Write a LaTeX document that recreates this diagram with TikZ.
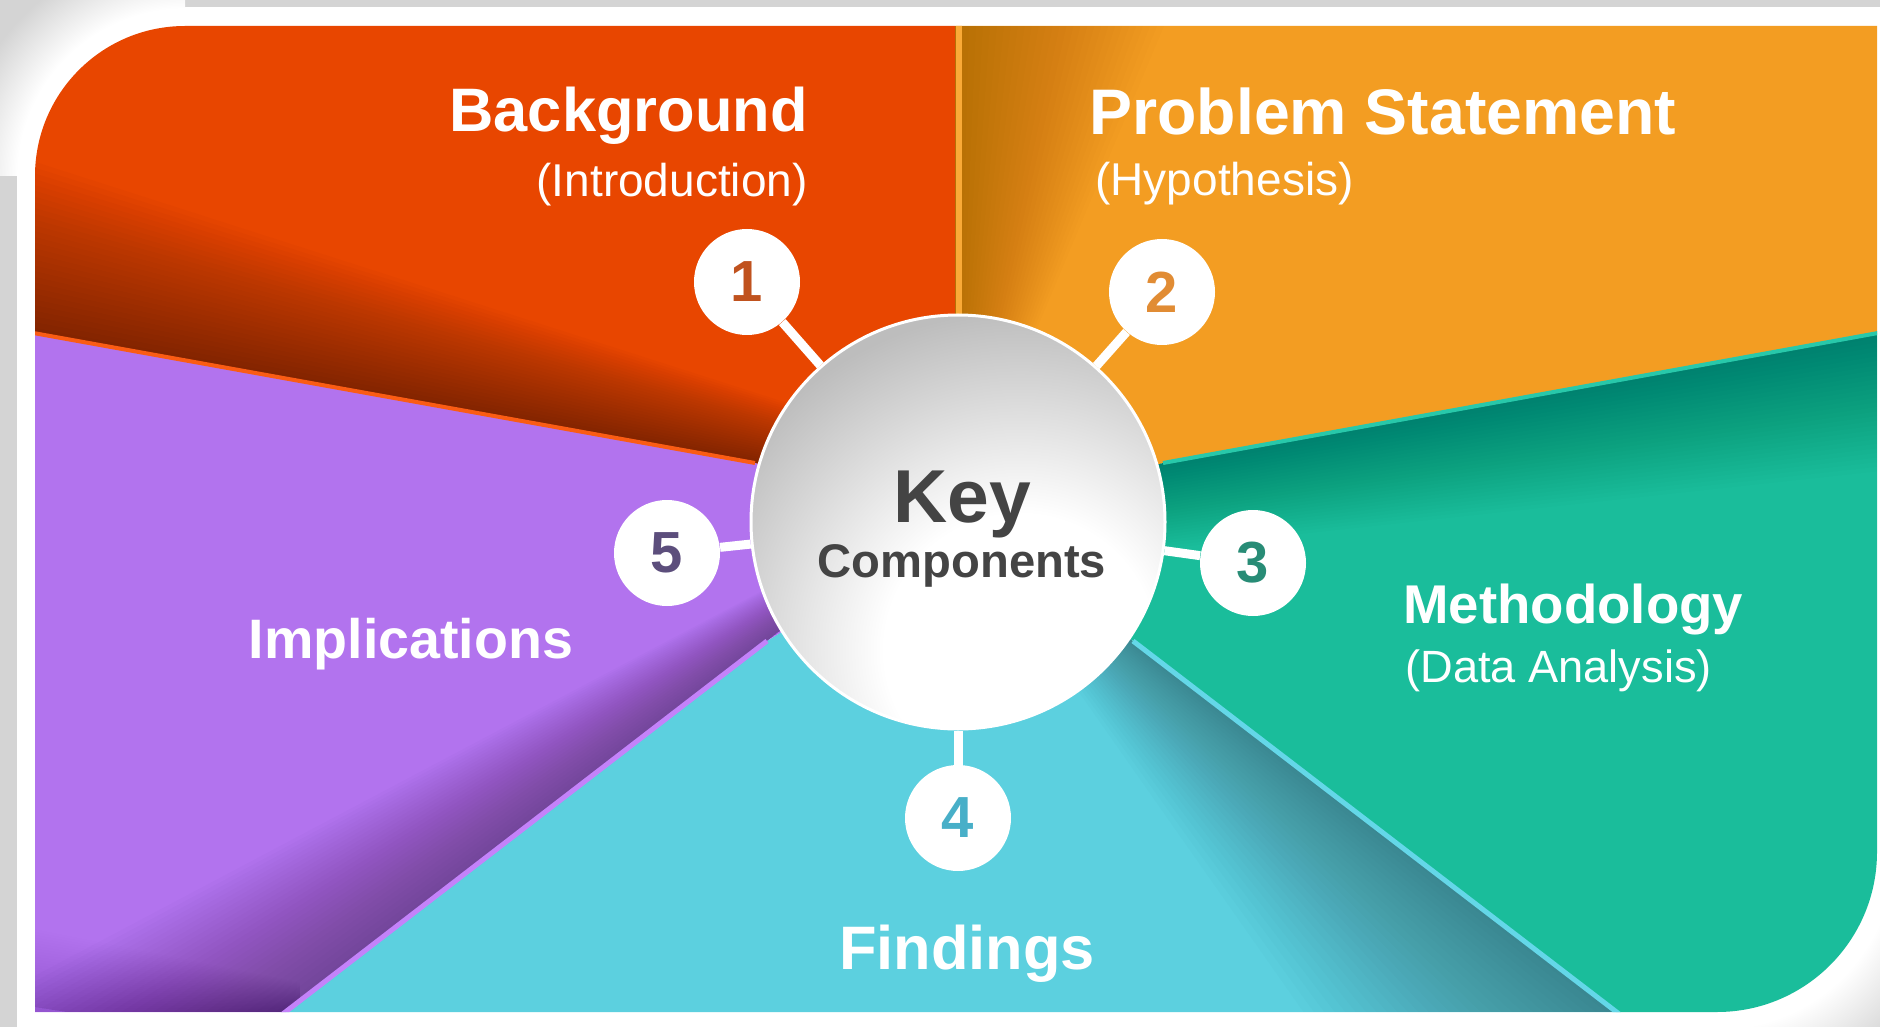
\documentclass[tikz,border=0pt]{standalone}
\usepackage{fontspec}
\setmainfont{Liberation Sans}
\usetikzlibrary{calc}
\definecolor{sred}{RGB}{232,70,0}
\definecolor{syellow}{RGB}{243,157,34}
\definecolor{steal}{RGB}{26,189,155}
\definecolor{scyan}{RGB}{92,208,223}
\definecolor{spurple}{RGB}{178,115,238}
\definecolor{hlred}{RGB}{250,92,20}
\definecolor{hlyellow}{RGB}{250,170,55}
\definecolor{hlteal}{RGB}{40,200,170}
\definecolor{hlcyan}{RGB}{100,215,232}
\definecolor{hlpurple}{RGB}{196,130,250}
\definecolor{bandgrey}{RGB}{212,212,212}
\definecolor{kgrey}{RGB}{189,189,189}
\definecolor{keytxt}{RGB}{68,68,68}
\definecolor{nonecol}{RGB}{192,82,30}
\definecolor{ntwocol}{RGB}{225,140,52}
\definecolor{nthreecol}{RGB}{40,140,118}
\definecolor{nfourcol}{RGB}{72,175,200}
\definecolor{nfivecol}{RGB}{92,78,124}
\pgfdeclareradialshading{cornershadow}{\pgfpointorigin}{rgb(0bp)=(1,1,1); rgb(16.1bp)=(1,1,1); rgb(22bp)=(0.83,0.83,0.83); rgb(50bp)=(0.83,0.83,0.83)}
\pgfdeclareradialshading{brshadow}{\pgfpointorigin}{rgb(0bp)=(1,1,1); rgb(17bp)=(1,1,1); rgb(23bp)=(0.86,0.86,0.86); rgb(50bp)=(0.86,0.86,0.86)}
\pgfdeclareradialshading{keyshade}{\pgfpointorigin}{rgb(0bp)=(1,1,1); rgb(10bp)=(1,1,1); rgb(25bp)=(0.74,0.74,0.74); rgb(50bp)=(0.74,0.74,0.74)}
\newcommand\shband[5]{\foreach \k in {1,...,30}{\pgfmathsetmacro\s{\k/30}\fill[black,opacity=#5] (#1) -- (#2) -- ($(#2)+\s*(#4)$) -- ($(#1)+\s*(#3)$) -- cycle;}}
\tikzset{
  keycircle/.style={circle, minimum size=207pt, inner sep=0pt, fill=kgrey, draw=white, line width=1.5pt,
    path picture={\shade[shading=keyshade] ($(path picture bounding box.center)+(62,128)$) circle (170pt);}},
  numc/.style={circle, minimum size=53pt, inner sep=0pt, fill=white, font=\bfseries\fontsize{29pt}{32pt}\selectfont},
  conn/.style={draw=white, line width=4.5pt},
  lbl/.style={inner sep=0pt, text=white},
  keylbl/.style={inner sep=0pt, text=keytxt, anchor=base}
}
\begin{document}
\begin{tikzpicture}[x=0.5pt, y=-0.5pt]
\useasboundingbox (0,0) rectangle (1880,1027);
\fill[white] (0,0) rectangle (1880,1027);
\fill[bandgrey] (0,0) rectangle (1880,7);
\fill[bandgrey] (0,0) rectangle (17,1027);
\begin{scope}
  \clip (0,0) rectangle (185,176);
  \shade[shading=cornershadow] (185,176) circle (130pt);
\end{scope}
\begin{scope}
  \clip (1717,852) rectangle (1880,1027);
  \shade[shading=brshadow] (1717,852) circle (130pt);
\end{scope}

\coordinate (C) at (958,522);
\coordinate (a0) at (955,0);    \coordinate (a1) at (955,400);
\coordinate (b0) at (1900,329); \coordinate (b1) at (1163,463);
\coordinate (c0) at (1653,1040);\coordinate (c1) at (1133,641);
\coordinate (d0) at (249,1040); \coordinate (d1) at (767,641);
\coordinate (e0) at (0,327);    \coordinate (e1) at (755,463);
% inner ends of the shadow bands (hidden under the centre circle)
\coordinate (ai) at (955,500);
\coordinate (bi) at (1015,490);
\coordinate (ci) at (1014,550);
\coordinate (di) at (886,549);
\coordinate (ei) at (900,489);

\begin{scope}
  \clip (35,1012) -- (35,176) .. controls (35,93.2) and (102.2,26) .. (185,26) -- (1877,26) -- (1877,852) .. controls (1877,940.3) and (1805.3,1012) .. (1717,1012) -- cycle;
  % sectors
  \fill[sred] (C) -- (e1) -- (e0) -- (0,0) -- (a0) -- (a1) -- cycle;
  \fill[syellow] (C) -- (a1) -- (a0) -- (1900,0) -- (b0) -- (b1) -- cycle;
  \fill[steal] (C) -- (b1) -- (b0) -- (1900,1040) -- (c0) -- (c1) -- cycle;
  \fill[scyan] (C) -- (c1) -- (c0) -- (d0) -- (d1) -- cycle;
  \fill[spurple] (C) -- (d1) -- (d0) -- (0,1040) -- (e0) -- (e1) -- cycle;
  % shadows
  \begin{scope}
    \clip (C) -- (e1) -- (e0) -- (0,0) -- (a0) -- (a1) -- cycle;
    \shband{e0}{ei}{20,-170}{0,-50}{0.0143}
  \end{scope}
  \begin{scope}
    \clip (C) -- (a1) -- (a0) -- (1900,0) -- (b0) -- (b1) -- cycle;
    \shband{a0}{ai}{220,0}{10,0}{0.0074}
  \end{scope}
  \begin{scope}
    \clip (C) -- (b1) -- (b0) -- (1900,1040) -- (c0) -- (c1) -- cycle;
    \shband{b0}{bi}{0,140}{0,75}{0.0096}
  \end{scope}
  \begin{scope}
    \clip (C) -- (c1) -- (c0) -- (d0) -- (d1) -- cycle;
    \shband{c0}{ci}{-330,0}{-35,0}{0.0128}
  \end{scope}
  \begin{scope}
    \clip (C) -- (d1) -- (d0) -- (0,1040) -- (e0) -- (e1) -- cycle;
    \shband{d0}{di}{-260,-40}{-45,0}{0.0133}
    \shband{0,1012}{300,1012}{0,-90}{0,-30}{0.0043}
  \end{scope}
  % highlight edges
  \draw[hlred, line width=2pt] (e0) -- (e1);
  \draw[hlyellow, line width=3pt] (959,0) -- (959,400);
  \draw[hlteal, line width=2pt] (b0) -- (b1);
  \draw[hlcyan, line width=2.5pt] (c0) -- (c1);
  \draw[hlpurple, line width=2.5pt] (d0) -- (d1);
\end{scope}

% centre
\node[keycircle] (key) at (C) {};
\node[keylbl, font=\bfseries\fontsize{37.5pt}{40pt}\selectfont] (keyA) at (962,522) {Key};
\node[keylbl, font=\bfseries\fontsize{23.6pt}{26pt}\selectfont] (keyB) at (962,577) {Components};

% numbered circles
\node[numc, text=nonecol] (n1) at (747,282) {1};
\node[numc, text=ntwocol] (n2) at (1162,292) {2};
\node[numc, text=nthreecol] (n3) at (1253,563) {3};
\node[numc, text=nfourcol] (n4) at (958,818) {4};
\node[numc, text=nfivecol] (n5) at (667,553) {5};
\draw[conn] (n1) -- (key);
\draw[conn] (n2) -- (key);
\draw[conn] (n3) -- (key);
\draw[conn] (n4) -- (key);
\draw[conn] (n5) -- (key);

% labels
\node[lbl, anchor=base east, font=\bfseries\fontsize{30.7pt}{34pt}\selectfont] (t1) at (808,132) {Background};
\node[lbl, anchor=base east, font=\fontsize{23pt}{26pt}\selectfont] (s1) at (808,197) {(Introduction)};
\node[lbl, anchor=base west, font=\bfseries\fontsize{32.2pt}{36pt}\selectfont] (t2) at (1089,135) {Problem Statement};
\node[lbl, anchor=base west, font=\fontsize{23pt}{26pt}\selectfont] (s2) at (1095,196) {(Hypothesis)};
\node[lbl, anchor=base west, font=\bfseries\fontsize{27.3pt}{30pt}\selectfont] (t3) at (1403,623) {Methodology};
\node[lbl, anchor=base west, font=\fontsize{22.6pt}{26pt}\selectfont] (s3) at (1405,682) {(Data Analysis)};
\node[lbl, anchor=base, font=\bfseries\fontsize{30.7pt}{34pt}\selectfont] (t4) at (967,969) {Findings};
\node[lbl, anchor=base, font=\bfseries\fontsize{27.8pt}{31pt}\selectfont] (t5) at (411,658) {Implications};
\end{tikzpicture}
\end{document}
